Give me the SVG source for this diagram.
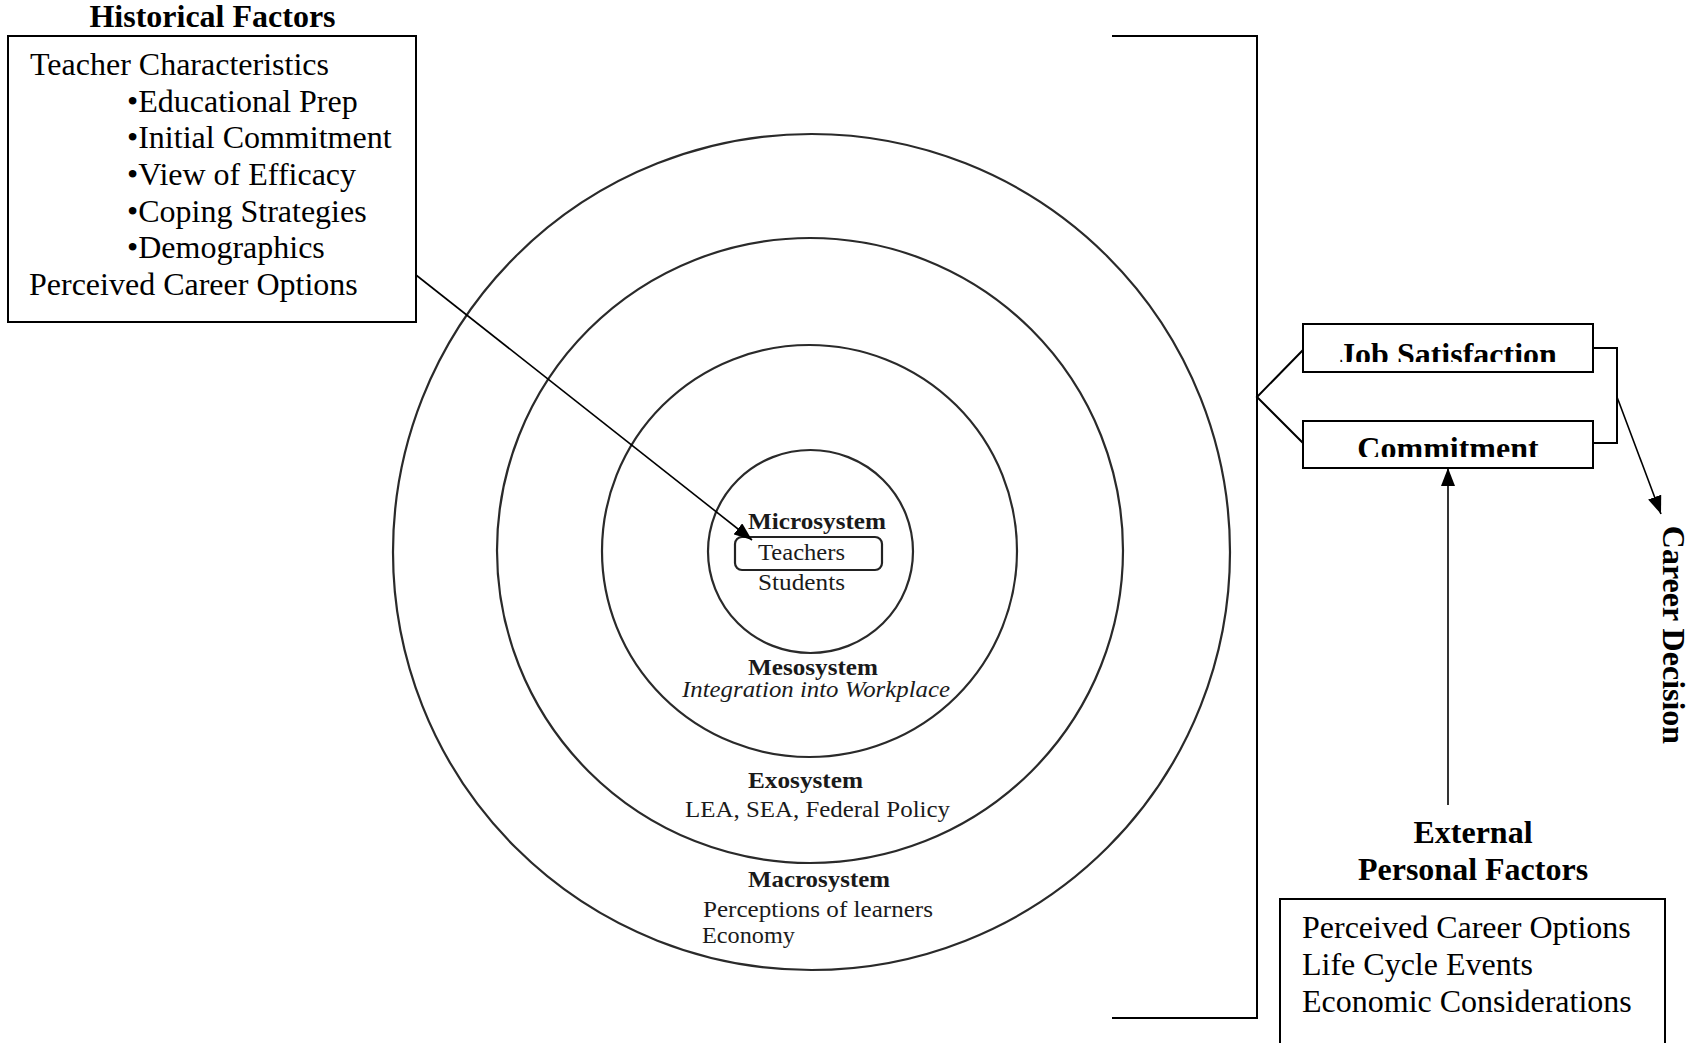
<svg xmlns="http://www.w3.org/2000/svg" width="1694" height="1043" viewBox="0 0 1694 1043">
<style>
text { font-family: "Liberation Serif", "Times New Roman", serif; fill: #000; }
.big { font-size: 32px; }
.bold { font-weight: bold; }
.sm { font-size: 23px; fill: #1a1a1a; }
.box { fill: #fff; stroke: #000; stroke-width: 2; }
.ring { fill: none; stroke: #2a2a2a; stroke-width: 2.2; }
.ln { fill: none; stroke: #000; stroke-width: 2; }
.arr { fill: none; stroke: #000; stroke-width: 1.6; marker-end: url(#ah); }
</style>
<defs>
<marker id="ah" viewBox="0 0 18 14" refX="18" refY="7" markerWidth="18" markerHeight="14" markerUnits="userSpaceOnUse" orient="auto">
<path d="M0,0 L18,7 L0,14 z" fill="#000"/>
</marker>
<clipPath id="clipJob"><rect x="1303" y="324" width="290" height="38"/></clipPath>
<clipPath id="clipCom"><rect x="1303" y="421" width="290" height="36"/></clipPath>
</defs>
<rect width="1694" height="1043" fill="#fff"/>

<g id="rings">
<ellipse class="ring" cx="811.5" cy="552" rx="418.5" ry="418"/>
<ellipse class="ring" cx="810" cy="550.5" rx="313" ry="312.5"/>
<ellipse class="ring" cx="809.5" cy="551" rx="207.5" ry="206"/>
<ellipse class="ring" cx="810.5" cy="551.5" rx="102.5" ry="101.5"/>
</g>

<g id="microsystem">
<text class="sm bold" x="748" y="529" textLength="138" lengthAdjust="spacingAndGlyphs">Microsystem</text>
<rect x="735" y="537" width="147" height="33" rx="7" fill="none" stroke="#222" stroke-width="2.2"/>
<text class="sm" x="758" y="560" textLength="87" lengthAdjust="spacingAndGlyphs">Teachers</text>
<text class="sm" x="758" y="590" textLength="87" lengthAdjust="spacingAndGlyphs">Students</text>
</g>

<g id="mesosystem">
<text class="sm bold" x="748" y="675" textLength="130" lengthAdjust="spacingAndGlyphs">Mesosystem</text>
<text class="sm" x="682" y="697" font-style="italic" textLength="268" lengthAdjust="spacingAndGlyphs">Integration into Workplace</text>
</g>

<g id="exosystem">
<text class="sm bold" x="748" y="788" textLength="115" lengthAdjust="spacingAndGlyphs">Exosystem</text>
<text class="sm" x="685" y="817" textLength="265" lengthAdjust="spacingAndGlyphs">LEA, SEA, Federal Policy</text>
</g>

<g id="macrosystem">
<text class="sm bold" x="748" y="887" textLength="142" lengthAdjust="spacingAndGlyphs">Macrosystem</text>
<text class="sm" x="703" y="917" textLength="230" lengthAdjust="spacingAndGlyphs">Perceptions of learners</text>
<text class="sm" x="702" y="943" textLength="93" lengthAdjust="spacingAndGlyphs">Economy</text>
</g>

<g id="historical-factors">
<text class="big bold" x="212.5" y="27" text-anchor="middle">Historical Factors</text>
<rect class="box" x="8" y="36" width="408" height="286"/>
<text class="big" x="30" y="75">Teacher Characteristics</text>
<text class="big" x="127" y="112">•Educational Prep</text>
<text class="big" x="127" y="148">•Initial Commitment</text>
<text class="big" x="127" y="185">•View of Efficacy</text>
<text class="big" x="127" y="222">•Coping Strategies</text>
<text class="big" x="127" y="258">•Demographics</text>
<text class="big" x="29" y="295">Perceived Career Options</text>
</g>

<g id="job-satisfaction">
<rect class="box" x="1303" y="324" width="290" height="48"/>
<text class="big bold" x="1448" y="365" text-anchor="middle" clip-path="url(#clipJob)">Job Satisfaction</text>
</g>

<g id="commitment">
<rect class="box" x="1303" y="421" width="290" height="47"/>
<text class="big bold" x="1448" y="459" text-anchor="middle" clip-path="url(#clipCom)">Commitment</text>
</g>

<g id="career-decision">
<text class="big bold" transform="translate(1663,635) rotate(90)" text-anchor="middle">Career Decision</text>
</g>

<g id="external-personal-factors">
<text class="big bold" x="1473" y="843" text-anchor="middle">External</text>
<text class="big bold" x="1473" y="880" text-anchor="middle">Personal Factors</text>
<rect class="box" x="1280" y="899" width="385" height="160"/>
<text class="big" x="1302" y="938">Perceived Career Options</text>
<text class="big" x="1302" y="975">Life Cycle Events</text>
<text class="big" x="1302" y="1012">Economic Considerations</text>
</g>

<g id="connectors">
<path class="ln" d="M1112,36 H1257 V1018 H1112"/>
<path class="ln" d="M1303,350 L1257,397 L1303,443"/>
<path class="ln" d="M1593,348 H1617 V443 H1593"/>
<line class="arr" x1="1617" y1="397" x2="1661" y2="514"/>
<line class="arr" x1="1448" y1="805" x2="1448" y2="468"/>
<line class="arr" x1="416" y1="275" x2="752" y2="540"/>
</g>
</svg>
